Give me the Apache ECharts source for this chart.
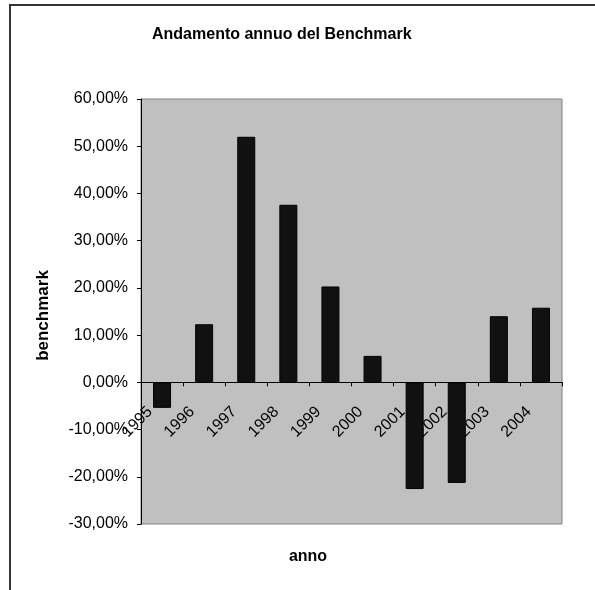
<!DOCTYPE html>
<html>
<head>
<meta charset="utf-8">
<script src="https://cdn.jsdelivr.net/npm/echarts@6/dist/echarts.min.js"></script>
<style>
html, body { margin: 0; padding: 0; background: #fff; }
#chart { width: 595px; height: 590px; }
</style>
</head>
<body>
<div id="chart"></div>
<script>
// anni e rendimento del benchmark (%)
const anni = ['1995', '1996', '1997', '1998', '1999', '2000', '2001', '2002', '2003', '2004']
const benchmark = [-5.4, 12.3, 52.0, 37.6, 20.3, 5.6, -22.6, -21.3, 14.0, 15.8]
const yMin = -30
const yMax = 60
const yStep = 10

const chart = echarts.init(document.getElementById('chart'))
const fontFam = 'Liberation Sans, Arial, sans-serif'

const gridTop = 99
const gridBottom = 66
const plotH = 590 - gridTop - gridBottom
// distanza della linea dello zero dal fondo del grafico
const zeroOffset = plotH * (0 - yMin) / (yMax - yMin)

const option = {
  animation: false,
  backgroundColor: '#fff',
  title: {
    text: 'Andamento annuo del Benchmark',
    left: 147,
    top: 22,
    textStyle: {
      fontFamily: fontFam,
      fontSize: 16,
      fontWeight: 'bold',
      color: '#000'
    }
  },
  graphic: [{
    type: 'rect',
    shape: { x: 10, y: 5, width: 700, height: 700 },
    style: { fill: 'none', stroke: '#333', lineWidth: 2 },
    silent: true
  }, {
    type: 'text',
    x: 308,
    y: 557,
    style: {
      text: 'anno',
      align: 'center',
      verticalAlign: 'middle',
      fontFamily: fontFam,
      fontSize: 16,
      fontWeight: 'bold',
      fill: '#000'
    }
  }],
  grid: {
    left: 141,
    right: 33,
    top: gridTop,
    bottom: gridBottom,
    show: true,
    backgroundColor: '#c0c0c0',
    borderColor: '#808080',
    borderWidth: 1
  },
  xAxis: {
    type: 'category',
    data: anni,
    position: 'bottom',
    offset: -zeroOffset,
    axisLine: { onZero: false, lineStyle: { color: '#000', width: 1 } },
    axisTick: { show: true, length: 4, lineStyle: { color: '#000' } },
    axisLabel: {
      rotate: 45,
      margin: 15,
      padding: [0, 17, 0, 0],
      fontFamily: fontFam,
      fontSize: 16,
      color: '#000'
    },
    splitLine: { show: false }
  },
  yAxis: {
    type: 'value',
    min: yMin,
    max: yMax,
    interval: yStep,
    name: 'benchmark',
    nameLocation: 'middle',
    nameGap: 89,
    nameTextStyle: {
      fontFamily: fontFam,
      fontSize: 17,
      fontWeight: 'bold',
      color: '#000',
      padding: [0, 8, 0, 0]
    },
    axisLine: { show: true, lineStyle: { color: '#000', width: 1 } },
    axisTick: { show: true, length: 4, lineStyle: { color: '#000' } },
    axisLabel: {
      margin: 13,
      fontFamily: fontFam,
      fontSize: 16,
      color: '#000',
      formatter: function (v) {
        return v.toFixed(2).replace('.', ',') + '%'
      }
    },
    splitLine: { show: false }
  },
  series: [{
    type: 'bar',
    data: benchmark,
    barWidth: 18,
    itemStyle: {
      color: '#111',
      borderColor: '#000',
      borderWidth: 1
    }
  }]
}
chart.setOption(option)
</script>
</body>
</html>
